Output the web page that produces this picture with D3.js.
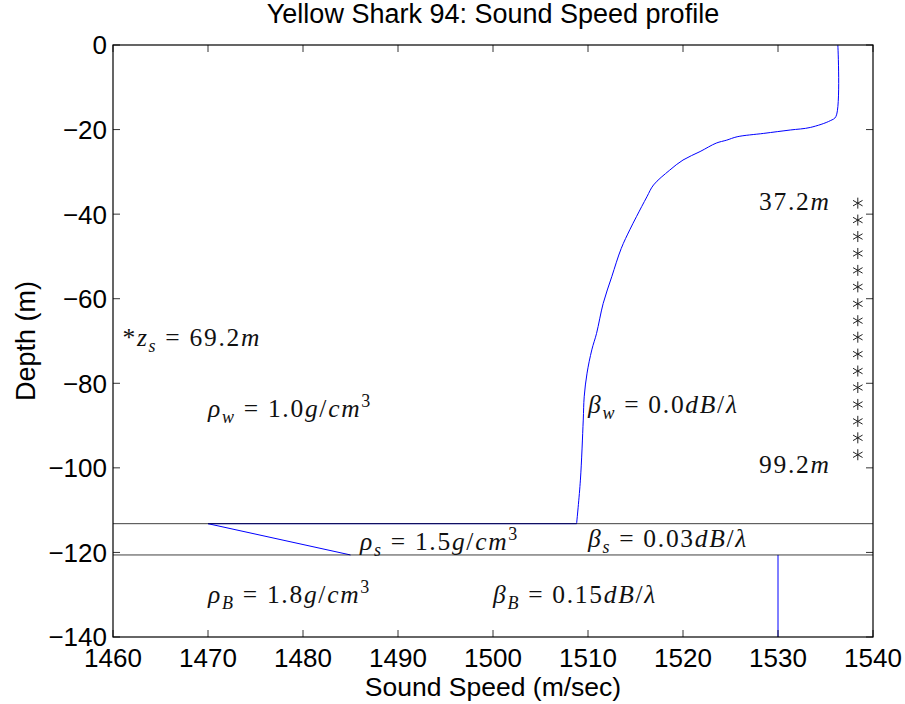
<!DOCTYPE html>
<html>
<head>
<meta charset="utf-8">
<script src="https://cdn.jsdelivr.net/npm/d3@7/dist/d3.min.js"></script>
<style>
  html, body { margin: 0; padding: 0; background: #fff; }
  svg { display: block; }
</style>
</head>
<body>
<svg id="chart" width="905" height="704"></svg>
<script>
// ---------------- data ----------------
const titleText = "Yellow Shark 94: Sound Speed profile";
const xLabel = "Sound Speed (m/sec)";
const yLabel = "Depth (m)";
const xTicks = [1460, 1470, 1480, 1490, 1500, 1510, 1520, 1530, 1540];
const yTicks = [0, -20, -40, -60, -80, -100, -120, -140];

// water column sound speed profile (depth in m, speed in m/s)
const waterDepth = [0, 16.9, 17.9, 19.5, 20.1, 20.9, 21.7, 22.5, 23.2, 25.2, 27.2, 29.6, 33.1, 35.9, 40.6, 43.7, 48.1, 54.8, 61.1, 68.2, 72.1, 77.6, 83.2, 88.7, 102.9, 113.2];
const waterSpeed = [1536.3, 1536.1, 1535.5, 1533.4, 1531.3, 1528.5, 1525.7, 1524.6, 1523.5, 1521.8, 1520.0, 1518.6, 1516.9, 1516.2, 1515.1, 1514.4, 1513.5, 1512.5, 1511.6, 1510.9, 1510.4, 1509.9, 1509.6, 1509.5, 1509.2, 1508.8];

// jump to sediment and sediment gradient
const sedimentDepth = [113.2, 113.2, 120.6];
const sedimentSpeed = [1508.8, 1470, 1485];

// bottom half-space
const bottomDepth = [120.6, 140];
const bottomSpeed = [1530, 1530];

// layer interfaces
const interfaceDepths = [113.2, 120.6];

// receiver array depths
const receiverDepths = [37.4, 41.4, 45.3, 49.3, 53.3, 57.2, 61.2, 65.2, 69.1, 73.1, 77.1, 81.0, 85.0, 89.0, 92.9, 96.9];
const receiverSpeed = 1538.4;

// annotations
const labelTexts = ["*z_{s} = 69.2m", "ρ_{w} = 1.0g/cm^{3}", "β_{w} = 0.0dB/λ", "ρ_{s} = 1.5g/cm^{3}", "β_{s} = 0.03dB/λ", "ρ_{B} = 1.8g/cm^{3}", "β_{B} = 0.15dB/λ", "37.2m", "99.2m"];
const labelSpeeds = [1461, 1470, 1510, 1486, 1510, 1470, 1500, 1528, 1528];
const labelDepths = [69.2, 86, 85, 117.5, 116.9, 130, 130, 37.2, 99.2];

// ---------------- layout ----------------
const svg = d3.select("#chart");
const L = 113, R = 873, T = 45, B = 637;
const x = d3.scaleLinear().domain([1460, 1540]).range([L, R]);
const y = d3.scaleLinear().domain([-140, 0]).range([B, T]);
const sans = "'Liberation Sans', Arial, Helvetica, sans-serif";
const serif = "'Liberation Serif', 'Times New Roman', serif";

svg.append("rect").attr("width", 905).attr("height", 704).attr("fill", "#fff");

const plot = svg.append("g");

// profile lines
const smooth = d3.line().x(d => x(d[0])).y(d => y(-d[1])).curve(d3.curveCatmullRom.alpha(0.5));
const line = d3.line().x(d => x(d[0])).y(d => y(-d[1]));
plot.append("path")
  .datum(waterSpeed.map((s, i) => [s, waterDepth[i]]))
  .attr("d", smooth).attr("fill", "none").attr("stroke", "#0000ff").attr("stroke-width", 1);
plot.append("path")
  .datum(sedimentSpeed.map((s, i) => [s, sedimentDepth[i]]))
  .attr("d", line).attr("fill", "none").attr("stroke", "#0000ff").attr("stroke-width", 1);
plot.append("path")
  .datum(bottomSpeed.map((s, i) => [s, bottomDepth[i]]))
  .attr("d", line).attr("fill", "none").attr("stroke", "#0000ff").attr("stroke-width", 1);

// interfaces
plot.selectAll("line.iface").data(interfaceDepths).enter().append("line")
  .attr("class", "iface")
  .attr("x1", x(1460)).attr("x2", x(1540))
  .attr("y1", d => y(-d)).attr("y2", d => y(-d))
  .attr("stroke", "#000").attr("stroke-width", 1).attr("stroke-opacity", 0.75);

// receivers (asterisk markers)
const starR = 5.5;
const starPath = d => {
  const cx = x(receiverSpeed), cy = y(-d);
  let p = "";
  [90, 30, -30].forEach(a => {
    const r = a * Math.PI / 180;
    const dx = starR * Math.cos(r), dy = starR * Math.sin(r);
    p += `M${cx - dx},${cy - dy}L${cx + dx},${cy + dy}`;
  });
  return p;
};
plot.selectAll("path.rcv").data(receiverDepths).enter().append("path")
  .attr("class", "rcv").attr("d", starPath)
  .attr("stroke", "#222").attr("stroke-width", 1).attr("fill", "none");

// math labels
function addMath(g, str, px, py) {
  const t = g.append("text").attr("x", px).attr("y", py).attr("dy", "0.32em")
    .attr("font-family", serif).attr("font-size", 25.5).attr("fill", "#111")
    .attr("letter-spacing", 1.7)
    .style("white-space", "pre");
  let i = 0, shift = 0;
  const emit = (txt, mode) => {
    let buf = "", bufIt = null;
    const flush = () => {
      if (!buf) return;
      const ts = t.append("tspan").text(buf);
      if (bufIt) ts.attr("font-style", "italic");
      const target = mode === "sub" ? 6 : mode === "sup" ? -10 : 0;
      if (mode) ts.attr("font-size", 18);
      if (target !== shift) { ts.attr("dy", target - shift); shift = target; }
      buf = "";
    };
    for (const ch of txt) {
      const it = /[A-Za-zα-ωΑ-Ω]/.test(ch);
      if (bufIt !== null && it !== bufIt) flush();
      bufIt = it; buf += ch;
    }
    flush();
  };
  while (i < str.length) {
    if ((str[i] === "_" || str[i] === "^") && str[i + 1] === "{") {
      const end = str.indexOf("}", i);
      emit(str.slice(i + 2, end), str[i] === "_" ? "sub" : "sup");
      i = end + 1;
    } else {
      let j = i;
      while (j < str.length && !((str[j] === "_" || str[j] === "^") && str[j + 1] === "{")) j++;
      emit(str.slice(i, j), null);
      i = j;
    }
  }
}
labelTexts.forEach((s, i) => addMath(plot, s, x(labelSpeeds[i]), y(-labelDepths[i])));

// ---------------- axes ----------------
const axisG = svg.append("g");
axisG.append("rect").attr("x", L).attr("y", T).attr("width", R - L).attr("height", B - T)
  .attr("fill", "none").attr("stroke", "#000").attr("stroke-width", 1.2);

const tickLen = 7;
xTicks.forEach(v => {
  axisG.append("line").attr("x1", x(v)).attr("x2", x(v)).attr("y1", B).attr("y2", B - tickLen)
    .attr("stroke", "#000").attr("stroke-width", 0.8);
  axisG.append("line").attr("x1", x(v)).attr("x2", x(v)).attr("y1", T).attr("y2", T + tickLen)
    .attr("stroke", "#000").attr("stroke-width", 0.8);
});
yTicks.forEach(v => {
  axisG.append("line").attr("x1", L).attr("x2", L + tickLen).attr("y1", y(v)).attr("y2", y(v))
    .attr("stroke", "#000").attr("stroke-width", 0.8);
  axisG.append("line").attr("x1", R).attr("x2", R - tickLen).attr("y1", y(v)).attr("y2", y(v))
    .attr("stroke", "#000").attr("stroke-width", 0.8);
});

axisG.selectAll("text.xt").data(xTicks).enter().append("text")
  .attr("class", "xt").attr("x", d => x(d)).attr("y", B + 30)
  .attr("text-anchor", "middle").attr("font-family", sans).attr("font-size", 26)
  .attr("fill", "#000").text(d => d);

axisG.selectAll("text.yt").data(yTicks).enter().append("text")
  .attr("class", "yt").attr("x", L - 6).attr("y", d => y(d)).attr("dy", "0.36em")
  .attr("text-anchor", "end").attr("font-family", sans).attr("font-size", 26)
  .attr("fill", "#000").text(d => d < 0 ? "\u2212" + Math.abs(d) : d);

// title & labels
svg.append("text").attr("x", (L + R) / 2).attr("y", 23).attr("text-anchor", "middle")
  .attr("font-family", sans).attr("font-size", 27).attr("fill", "#000").text(titleText);
svg.append("text").attr("x", (L + R) / 2).attr("y", 696).attr("text-anchor", "middle")
  .attr("font-family", sans).attr("font-size", 26.5).attr("fill", "#000").text(xLabel);
svg.append("text").attr("transform", `translate(35,${(T + B) / 2}) rotate(-90)`)
  .attr("text-anchor", "middle")
  .attr("font-family", sans).attr("font-size", 27).attr("fill", "#000").text(yLabel);
</script>
</body>
</html>
